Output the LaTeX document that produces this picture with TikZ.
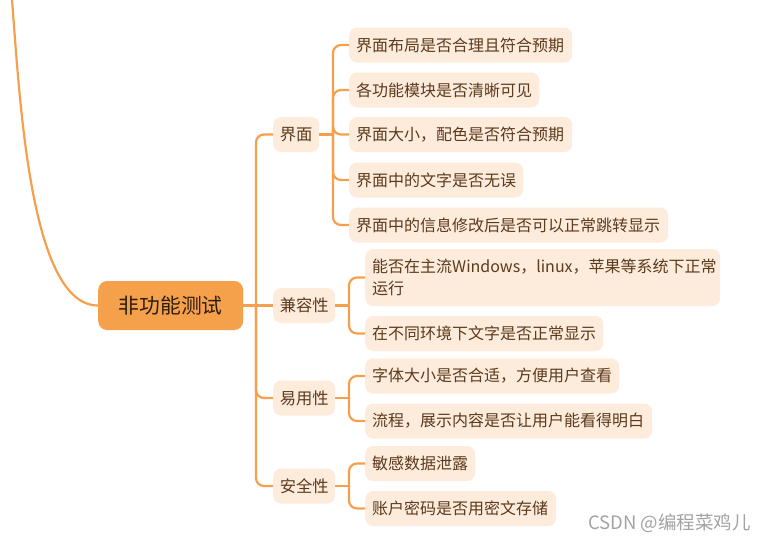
\documentclass[tikz,border=0pt]{standalone}
\usepackage{fontspec}
\setmainfont{Noto Sans CJK SC}
\definecolor{lineor}{HTML}{F6A04D}
\definecolor{rootfill}{HTML}{F5A04A}
\definecolor{leaffill}{HTML}{FDEBDC}
\definecolor{txtbrown}{HTML}{5B3A1D}
\definecolor{roottxt}{HTML}{2E1E10}
\definecolor{wm}{HTML}{A3A3A3}
\tikzset{
  conn/.style={draw=lineor, line width=2.2pt, rounded corners=8pt},
  leafbox/.style={fill=leaffill, rounded corners=8pt, anchor=west, inner xsep=7pt,
    minimum height=35pt, align=left, text=txtbrown,
    font=\fontsize{16}{22}\selectfont},
  catbox/.style={fill=leaffill, rounded corners=8pt, anchor=west, inner xsep=0pt,
    minimum height=35pt, text=txtbrown, font=\fontsize{16.3}{20}\selectfont},
  rootbox/.style={fill=rootfill, rounded corners=9pt, anchor=west, inner xsep=0pt,
    minimum width=145pt, minimum height=49pt, text=roottxt,
    font=\fontsize{20.8}{24}\selectfont}
}
\begin{document}
\begin{tikzpicture}[x=1pt,y=-1pt]
\useasboundingbox (0,0) rectangle (766,541);
\fill[white] (0,0) rectangle (766,541);
% root
\node[rootbox] (root) at (98,305.5) {非功能测试};
% categories
\node[catbox, minimum width=46pt] (jm) at (273,134.5) {界面};
\node[catbox, minimum width=62pt] (jr) at (273,305.5) {兼容性};
\node[catbox, minimum width=62pt] (yy) at (273,398) {易用性};
\node[catbox, minimum width=62pt] (aq) at (273,486) {安全性};
% leaves of 界面
\node[leafbox, text width=209pt] (c1) at (349,45) {\mbox{界面布局是否合理且符合预期}};
\node[leafbox, text width=176pt] (c2) at (349,90) {\mbox{各功能模块是否清晰可见}};
\node[leafbox, text width=209pt] (c3) at (349,134.5) {\mbox{界面大小，配色是否符合预期}};
\node[leafbox, text width=160pt] (c4) at (349,180) {\mbox{界面中的文字是否无误}};
\node[leafbox, text width=305pt] (c5) at (349,225) {\mbox{界面中的信息修改后是否可以正常跳转显示}};
% leaves of 兼容性
\node[leafbox, text width=341pt, minimum height=57pt] (k1) at (365,277.5) {\mbox{能否在主流Windows，linux，苹果等系统下正常}\\运行};
\node[leafbox, text width=224pt] (k2) at (365,333.5) {\mbox{在不同环境下文字是否正常显示}};
% leaves of 易用性
\node[leafbox, text width=240pt] (e1) at (365,376) {\mbox{字体大小是否合适，方便用户查看}};
\node[leafbox, text width=273pt] (e2) at (365,421) {\mbox{流程，展示内容是否让用户能看得明白}};
% leaves of 安全性
\node[leafbox, text width=96pt] (s1) at (365,463.5) {\mbox{敏感数据泄露}};
\node[leafbox, text width=177pt] (s2) at (365,508.5) {\mbox{账户密码是否用密文存储}};
% junction coordinates
\coordinate (t0) at (256,305.5);
\coordinate (t1) at (333,134.5);
\coordinate (t2) at (349,305.5);
\coordinate (t3) at (349,398);
\coordinate (t4) at (349,486);
\coordinate (top) at (12,0);
% incoming curve
\draw[conn] (root.west) .. controls (30,305.5) and (20,100) .. (top);
% root to categories
\draw[conn] (root.east) -- (t0);
\draw[conn] (t0) |- (jm.west);
\draw[conn] (t0) -- (jr.west);
\draw[conn] (t0) |- (yy.west);
\draw[conn] (t0) |- (aq.west);
% 界面
\draw[conn] (jm.east) -- (t1);
\foreach \n in {c1,c2,c3,c4,c5} \draw[conn] (t1) |- (\n.west);
% 兼容性
\draw[conn] (jr.east) -- (t2);
\foreach \n in {k1,k2} \draw[conn] (t2) |- (\n.west);
% 易用性
\draw[conn] (yy.east) -- (t3);
\foreach \n in {e1,e2} \draw[conn] (t3) |- (\n.west);
% 安全性
\draw[conn] (aq.east) -- (t4);
\foreach \n in {s1,s2} \draw[conn] (t4) |- (\n.west);
% watermark
\node[text=wm, font=\fontsize{18.5}{22}\selectfont, anchor=east, inner sep=0pt] (wmk) at (751,523) {CSDN @编程菜鸡儿};
\end{tikzpicture}
\end{document}
